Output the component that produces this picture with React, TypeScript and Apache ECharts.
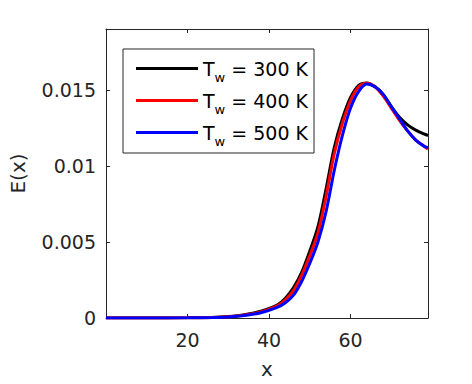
import React, { useEffect, useRef } from "react";
import * as echarts from "echarts";

const xValues = [0, 10, 20, 26, 30, 34, 38, 42, 44, 46, 48, 50, 52, 54, 56, 58, 60, 62, 64, 66, 68, 70, 72, 74, 76, 78, 79];
const e300 = [0, 0, 0.00001, 0.00004, 0.0001, 0.00022, 0.00044, 0.00085, 0.0013, 0.002, 0.003, 0.0044, 0.006, 0.0085, 0.0112, 0.0131, 0.0145, 0.0153, 0.01545, 0.0152, 0.0147, 0.0139, 0.0132, 0.0127, 0.01235, 0.0121, 0.012];
const e400 = [0, 0, 0.00001, 0.00004, 0.00009, 0.0002, 0.0004, 0.0008, 0.0012, 0.0018, 0.0028, 0.0041, 0.0056, 0.008, 0.0108, 0.0128, 0.0143, 0.0152, 0.01543, 0.0152, 0.0146, 0.0138, 0.013, 0.0123, 0.0117, 0.0113, 0.0111];
const e500 = [0, 0, 0.00001, 0.00003, 0.00007, 0.00017, 0.00035, 0.0007, 0.001, 0.0015, 0.0024, 0.0036, 0.005, 0.007, 0.0097, 0.012, 0.0138, 0.0149, 0.01538, 0.0152, 0.0147, 0.0139, 0.0131, 0.0123, 0.0117, 0.0113, 0.0112];
const seriesNames = ["300", "400", "500"];
const seriesColors = ["#000000", "#ff0000", "#0000ff"];
const xTicks = [20, 40, 60];

const FONT = "DejaVu Sans";
const INK = "#262626";

export default function App() {
  const ref = useRef<HTMLDivElement>(null);
  useEffect(() => {
    if (!ref.current) return;
    const chart = echarts.init(ref.current, undefined, { renderer: "svg" });
    const all = [e300, e400, e500];
    const axisCommon = {
      axisLine: { show: true, onZero: false, lineStyle: { color: INK, width: 1 } },
      axisTick: { show: true, inside: true, length: 4, lineStyle: { color: INK } },
      splitLine: { show: false },
    };
    chart.setOption({
      animation: false,
      backgroundColor: "#ffffff",
      grid: { left: 102, right: 44, top: 29, bottom: 63, containLabel: false },
      xAxis: [
        {
          type: "value",
          min: 0,
          max: 79,
          interval: 20,
          position: "bottom",
          name: "x",
          nameLocation: "middle",
          nameGap: 41,
          nameTextStyle: { fontFamily: FONT, fontSize: 20, color: INK },
          ...axisCommon,
          axisLabel: {
            margin: 12,
            fontFamily: FONT,
            fontSize: 19,
            color: INK,
            formatter: (v: number) => (xTicks.includes(v) ? String(v) : ""),
          },
        },
        {
          type: "value",
          min: 0,
          max: 79,
          interval: 20,
          position: "top",
          ...axisCommon,
          axisLabel: { show: false },
        },
      ],
      yAxis: [
        {
          type: "value",
          min: 0,
          max: 0.019,
          interval: 0.005,
          position: "left",
          name: "E(x)",
          nameLocation: "middle",
          nameGap: 78,
          nameRotate: 90,
          nameTextStyle: { fontFamily: FONT, fontSize: 20, color: INK },
          ...axisCommon,
          axisLabel: {
            margin: 10,
            fontFamily: FONT,
            fontSize: 19,
            color: INK,
            showMaxLabel: false,
          },
        },
        {
          type: "value",
          min: 0,
          max: 0.019,
          interval: 0.005,
          position: "right",
          ...axisCommon,
          axisLabel: { show: false },
        },
      ],
      legend: {
        left: 123,
        top: 49,
        orient: "vertical",
        backgroundColor: "#ffffff",
        borderColor: INK,
        borderWidth: 1,
        borderRadius: 0,
        padding: [4, 6, 5, 13],
        itemGap: 1,
        itemWidth: 62,
        itemHeight: 3,
        icon: "rect",
        formatter: (name: string) => `{t|T}{s|w}{t| = ${name} K}`,
        textStyle: {
          fontFamily: FONT,
          color: "#000000",
          rich: {
            t: { fontFamily: FONT, fontSize: 19, color: "#000000", lineHeight: 22 },
            s: { fontFamily: FONT, fontSize: 13, color: "#000000", padding: [18, 0, 0, 0], lineHeight: 12 },
          },
        },
        data: seriesNames,
      },
      series: seriesNames.map((n, i) => ({
        name: n,
        type: "line",
        xAxisIndex: 0,
        yAxisIndex: 0,
        showSymbol: false,
        symbol: "none",
        smooth: 0.3,
        lineStyle: { color: seriesColors[i], width: 3 },
        itemStyle: { color: seriesColors[i] },
        data: xValues.map((x, j) => [x, all[i][j]]),
      })),
    });
    return () => chart.dispose();
  }, []);
  return <div ref={ref} style={{ width: 472, height: 384, margin: -8 }} />;
}
